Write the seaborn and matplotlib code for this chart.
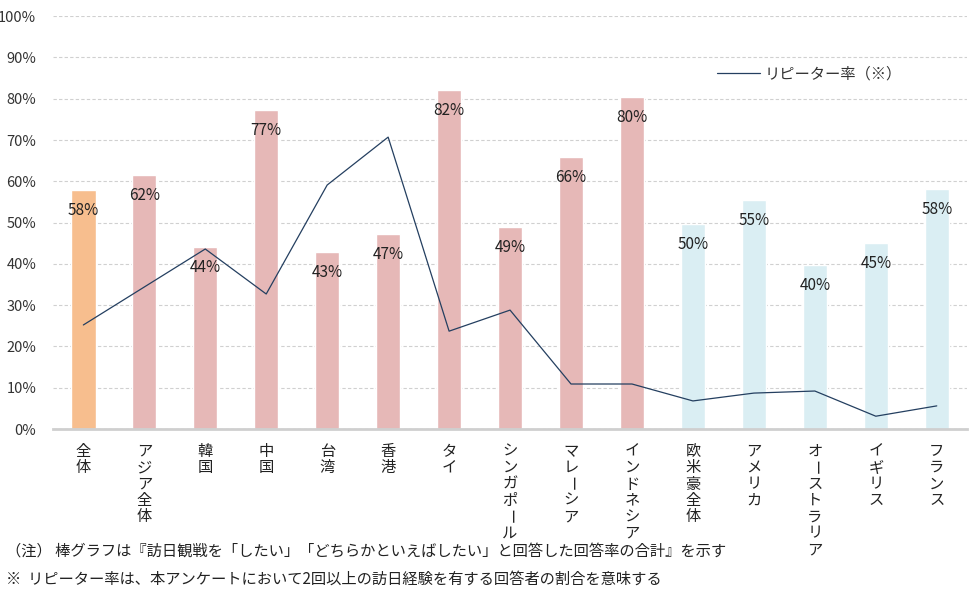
import matplotlib

matplotlib.use("Agg")
import matplotlib.pyplot as plt
import numpy as np
import pandas as pd
import seaborn as sns

categories = [
    "全体", "アジア全体", "韓国", "中国", "台湾", "香港", "タイ", "シンガポール",
    "マレーシア", "インドネシア", "欧米豪全体", "アメリカ", "オーストラリア", "イギリス", "フランス",
]
want_to_watch = [57.9, 61.5, 44.1, 77.2, 42.9, 47.2, 82.1, 48.9, 65.9, 80.4, 49.6, 55.4, 39.7, 45.0, 58.1]
bar_labels = ["58%", "62%", "44%", "77%", "43%", "47%", "82%", "49%", "66%", "80%", "50%", "55%", "40%", "45%", "58%"]
repeater_rate = [25.2, 34.4, 43.6, 32.7, 59.1, 70.7, 23.7, 28.8, 10.9, 10.9, 6.8, 8.7, 9.2, 3.1, 5.6]
groups = ["all"] + ["asia"] * 9 + ["west"] * 5
yticks = [0, 10, 20, 30, 40, 50, 60, 70, 80, 90, 100]
legend_label = "リピーター率（※）"
notes = [
    "（注） 棒グラフは『訪日観戦を「したい」「どちらかといえばしたい」と回答した回答率の合計』を示す",
    "※  リピーター率は、本アンケートにおいて2回以上の訪日経験を有する回答者の割合を意味する",
]

group_colors = {"all": "#F7BE8E", "asia": "#E6B8B7", "west": "#DAEEF3"}
line_color = "#243F60"

sns.set_theme(style="white")
plt.rcParams["font.family"] = ["Noto Sans CJK JP", "DejaVu Sans"]

df = pd.DataFrame({"category": categories, "value": want_to_watch,
                   "repeat": repeater_rate, "group": groups})

fig = plt.figure(figsize=(9.79, 5.98), dpi=100)
ax = fig.add_axes([0.054, 0.2826, 0.934, 0.6904])

sns.barplot(data=df, x="category", y="value", hue="group", palette=group_colors,
            dodge=False, width=0.4, legend=False, ax=ax, saturation=1)
sns.lineplot(x=np.arange(len(categories)), y=df["repeat"], color=line_color,
             linewidth=0.9, ax=ax, label=legend_label)

for i, (v, lab) in enumerate(zip(want_to_watch, bar_labels)):
    ax.annotate(lab, (i, v), xytext=(0, -14.5), textcoords="offset points",
                ha="center", va="center", fontsize=11, color="#222222")

ax.set_ylim(0, 100)
ax.set_xlim(-0.5, len(categories) - 0.5)
ax.set_yticks(yticks)
ax.set_yticklabels([f"{t}%" for t in yticks], fontsize=10.5, color="#333333")
ax.tick_params(axis="y", length=0, pad=12)
ax.tick_params(axis="x", length=0)
ax.set_xticks(range(len(categories)))
ax.set_xticklabels([""] * len(categories))
ax.set_xlabel("")
ax.set_ylabel("")
ax.grid(axis="y", color="#D0D0D0", linestyle=(0, (3, 2)), linewidth=0.8)
ax.set_axisbelow(True)
for side in ["top", "right", "left"]:
    ax.spines[side].set_visible(False)
ax.spines["bottom"].set_color("#CFCFCF")
ax.spines["bottom"].set_linewidth(2)

# vertical (tategaki) category labels, one character per line
xform = ax.get_xaxis_transform()
for i, name in enumerate(categories):
    for j, ch in enumerate(name):
        ax.annotate(ch, (i, 0), xycoords=xform, xytext=(0, -16 - j * 11.8),
                    textcoords="offset points", ha="center", va="center",
                    fontsize=11, color="#222222", rotation=-90 if ch == "ー" else 0,
                    annotation_clip=False)

leg = ax.legend(loc="center left", bbox_to_anchor=(0.718, 0.86), frameon=False,
                fontsize=11, handlelength=2.8, handletextpad=0.3, borderpad=0)
for t in leg.get_texts():
    t.set_color("#333333")

fig.text(0.006, 0.078, notes[0], fontsize=11, color="#222222", va="center")
fig.text(0.006, 0.031, notes[1], fontsize=11, color="#222222", va="center")

fig.savefig("out.png", dpi=100)
plt.close(fig)
